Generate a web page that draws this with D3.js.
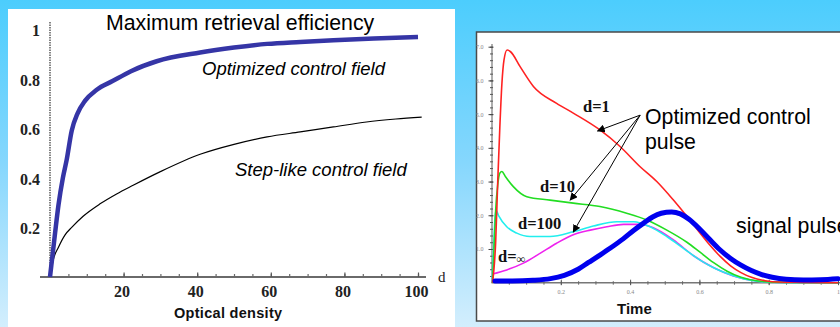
<!DOCTYPE html>
<html>
<head>
<meta charset="utf-8">
<script src="https://cdn.jsdelivr.net/npm/d3@7"></script>
<style>
  html, body { margin: 0; padding: 0; background: #ffffff; }
  svg { display: block; }
</style>
</head>
<body>
<script>
// ---- Left panel: maximum retrieval efficiency vs optical density ----
const optDensity    = [0, 0.7, 1.4, 2.3, 3.5, 4.5, 5.9, 7.5, 9.5, 12.7, 17, 22, 29, 40.8, 50, 59, 68, 77, 88, 100];
const optEfficiency = [0, 0.09, 0.18, 0.29, 0.40, 0.47, 0.59, 0.66, 0.71, 0.755, 0.79, 0.83, 0.87, 0.905, 0.925, 0.94, 0.948, 0.955, 0.962, 0.968];
const stepDensity    = [0, 0.9, 2.3, 4.1, 5.9, 9, 13.6, 18.1, 22.6, 30, 40.8, 50, 59, 68, 77, 86, 94, 101];
const stepEfficiency = [0, 0.07, 0.12, 0.17, 0.2, 0.245, 0.295, 0.335, 0.37, 0.425, 0.495, 0.535, 0.565, 0.585, 0.605, 0.625, 0.637, 0.645];
const densityTicks    = [20, 40, 60, 80, 100];
const efficiencyTicks = [0.2, 0.4, 0.6, 0.8, 1];

// ---- Right panel: control pulses and signal pulse vs time ----
const timeD1  = [0.003, 0.012, 0.018, 0.024, 0.03, 0.036, 0.045, 0.055, 0.083, 0.121, 0.188, 0.236, 0.313, 0.371, 0.429, 0.477, 0.525, 0.573, 0.6, 0.63, 0.66, 0.69, 0.72, 0.75, 0.79, 0.83, 0.9, 1.0];
const ctrlD1  = [0, 1.2, 3.0, 4.6, 5.9, 6.6, 6.9, 6.85, 6.4, 5.82, 5.32, 5.03, 4.53, 4.04, 3.44, 3.0, 2.45, 1.85, 1.5, 1.12, 0.78, 0.5, 0.3, 0.16, 0.06, 0.02, 0.01, 0];
const timeD10 = [0.003, 0.008, 0.012, 0.018, 0.024, 0.03, 0.04, 0.063, 0.102, 0.169, 0.236, 0.313, 0.39, 0.448, 0.506, 0.564, 0.6, 0.64, 0.68, 0.72, 0.77, 0.85, 1.0];
const ctrlD10 = [0, 1.2, 2.15, 2.9, 3.25, 3.3, 3.15, 2.85, 2.55, 2.45, 2.36, 2.26, 2.06, 1.86, 1.56, 1.2, 0.92, 0.6, 0.34, 0.16, 0.05, 0.01, 0];
const timeD100 = [0.002, 0.006, 0.01, 0.013, 0.02, 0.044, 0.073, 0.111, 0.169, 0.236, 0.294, 0.362, 0.41, 0.458, 0.506, 0.554, 0.602, 0.65, 0.698, 0.756, 0.82, 1.0];
const ctrlD100 = [0.1, 1.0, 1.9, 2.15, 2.0, 1.66, 1.47, 1.37, 1.37, 1.51, 1.68, 1.81, 1.81, 1.66, 1.37, 1.02, 0.67, 0.4, 0.21, 0.06, 0.01, 0];
const timeDInf = [0.003, 0.044, 0.092, 0.14, 0.188, 0.236, 0.285, 0.333, 0.381, 0.429, 0.467, 0.525, 0.583, 0.64, 0.698, 0.766, 0.83, 1.0];
const ctrlDInf = [0.26, 0.38, 0.58, 0.87, 1.17, 1.42, 1.56, 1.66, 1.73, 1.73, 1.63, 1.27, 0.8, 0.45, 0.2, 0.05, 0.01, 0.0];
const timeSignal = [0.01, 0.06, 0.12, 0.17, 0.21, 0.25, 0.28, 0.313, 0.342, 0.38, 0.41, 0.438, 0.465, 0.49, 0.52, 0.545, 0.57, 0.6, 0.63, 0.66, 0.69, 0.72, 0.75, 0.78, 0.81, 0.85, 0.9, 0.95, 1.0];
const signalPulse = [0.05, 0.05, 0.07, 0.12, 0.22, 0.4, 0.6, 0.82, 1.02, 1.3, 1.55, 1.76, 1.95, 2.06, 2.1, 2.04, 1.88, 1.6, 1.28, 0.97, 0.72, 0.52, 0.36, 0.24, 0.16, 0.1, 0.08, 0.09, 0.12];
const timeTicks  = [0.2, 0.4, 0.6, 0.8, 1];
const pulseTicks = [1, 2, 3, 4, 5, 6, 7];

const W = 840, H = 327;
const svg = d3.select("body").append("svg").attr("width", W).attr("height", H);

// slide background: vertical sky-blue gradient
const defs = svg.append("defs");
const grad = defs.append("linearGradient").attr("id", "bg").attr("x1", 0).attr("y1", 0).attr("x2", 0).attr("y2", 1);
grad.append("stop").attr("offset", "0%").attr("stop-color", "#4ccdfd");
grad.append("stop").attr("offset", "50%").attr("stop-color", "#86d7fd");
grad.append("stop").attr("offset", "100%").attr("stop-color", "#d3eefd");
svg.append("rect").attr("width", W).attr("height", H).attr("fill", "url(#bg)");

defs.append("marker").attr("id", "arrowHead")
  .attr("viewBox", "0 0 10 10").attr("refX", 9).attr("refY", 5)
  .attr("markerWidth", 8).attr("markerHeight", 8).attr("markerUnits", "userSpaceOnUse")
  .attr("orient", "auto")
  .append("path").attr("d", "M0,0 L10,5 L0,10 Z").attr("fill", "#000");

const serif = "'Liberation Serif', 'Times New Roman', serif";
const sans  = "'Liberation Sans', Arial, sans-serif";

// ================= Left panel =================
svg.append("rect").attr("x", 8).attr("y", 9).attr("width", 447).attr("height", 318).attr("fill", "#fff");

const xL = d3.scaleLinear().domain([0, 100]).range([50, 418]);
const yL = d3.scaleLinear().domain([0, 1]).range([277, 29]);

// horizontal axis line
svg.append("line").attr("x1", 40).attr("x2", 426).attr("y1", yL(0)).attr("y2", yL(0))
  .attr("stroke", "#6a6a6a").attr("stroke-width", 2);

// minor ticks
const gMinor = svg.append("g").attr("transform", `translate(0,${yL(0)})`)
  .call(d3.axisBottom(xL).tickValues(d3.range(5, 101, 5)).tickSize(-3).tickFormat(""));
gMinor.select(".domain").remove();
gMinor.selectAll("line").attr("stroke", "#6a6a6a").attr("stroke-width", 1.2);

// major ticks + labels
const gMajor = svg.append("g").attr("transform", `translate(0,${yL(0)})`)
  .call(d3.axisBottom(xL).tickValues(densityTicks).tickSize(-4.5).tickPadding(9));
gMajor.select(".domain").remove();
gMajor.selectAll("line").attr("stroke", "#555").attr("stroke-width", 1.2);
gMajor.selectAll("text").attr("font-family", serif).attr("font-weight", "bold")
  .attr("font-size", 16).attr("fill", "#222").attr("dx", -2);

// vertical dotted axis
svg.append("line").attr("x1", xL(0)).attr("x2", xL(0)).attr("y1", 22).attr("y2", yL(0))
  .attr("stroke", "#333").attr("stroke-width", 1.2).attr("stroke-dasharray", "1.5,1");

const gY = svg.append("g").attr("transform", `translate(${xL(0)},0)`)
  .call(d3.axisLeft(yL).tickValues(efficiencyTicks).tickSize(0).tickPadding(10)
    .tickFormat(d => d === 1 ? "1" : d3.format(".1f")(d)));
gY.select(".domain").remove();
gY.selectAll("text").attr("font-family", serif).attr("font-weight", "bold")
  .attr("font-size", 16).attr("fill", "#222").attr("dy", "0.4em");

const lineL = d3.line().x(d => xL(d[0])).y(d => yL(d[1])).curve(d3.curveMonotoneX);

svg.append("path").datum(d3.zip(stepDensity, stepEfficiency))
  .attr("d", lineL).attr("fill", "none").attr("stroke", "#000").attr("stroke-width", 1.2);
svg.append("path").datum(d3.zip(optDensity, optEfficiency))
  .attr("d", lineL).attr("fill", "none").attr("stroke", "#3535a6").attr("stroke-width", 4.5)
  .attr("stroke-linejoin", "round");

svg.append("text").attr("x", 106).attr("y", 30).attr("font-family", sans).attr("font-size", 21.3)
  .attr("fill", "#000").text("Maximum retrieval efficiency");
svg.append("text").attr("x", 202).attr("y", 75).attr("font-family", sans).attr("font-style", "italic")
  .attr("font-size", 18.5).attr("fill", "#000").text("Optimized control field");
svg.append("text").attr("x", 235).attr("y", 176).attr("font-family", sans).attr("font-style", "italic")
  .attr("font-size", 18.5).attr("fill", "#000").text("Step-like control field");
svg.append("text").attr("x", 174).attr("y", 318).attr("font-family", sans).attr("font-weight", "bold")
  .attr("font-size", 14.5).attr("fill", "#111").attr("letter-spacing", 0.3).text("Optical density");
svg.append("text").attr("x", 438).attr("y", 282).attr("font-family", serif)
  .attr("font-size", 15).attr("fill", "#222").text("d");

// ================= Right panel =================
svg.append("rect").attr("x", 476.5).attr("y", 32).attr("width", 400).attr("height", 289)
  .attr("fill", "#fff").attr("stroke", "#4a4a4a").attr("stroke-width", 1.5);

const xR = d3.scaleLinear().domain([0, 1]).range([491.5, 838]);
const yR = d3.scaleLinear().domain([0, 7]).range([282.7, 46.7]);

// time axis
svg.append("line").attr("x1", xR(0)).attr("x2", 842).attr("y1", yR(0)).attr("y2", yR(0))
  .attr("stroke", "#777").attr("stroke-width", 1.5);
const gTm = svg.append("g").attr("transform", `translate(0,${yR(0)})`)
  .call(d3.axisBottom(xR).tickValues(d3.range(0.05, 1.001, 0.05)).tickSize(2).tickFormat(""));
gTm.select(".domain").remove();
gTm.selectAll("line").attr("stroke", "#666").attr("y1", -1.5);
const gT = svg.append("g").attr("transform", `translate(0,${yR(0)})`)
  .call(d3.axisBottom(xR).tickValues(timeTicks).tickSize(2.5).tickPadding(5).tickFormat(d => d === 1 ? "1" : d3.format(".1f")(d)));
gT.select(".domain").remove();
gT.selectAll("line").attr("stroke", "#555").attr("y1", -3);
gT.selectAll("text").attr("font-family", serif).attr("font-size", 6).attr("fill", "#888");

// pulse amplitude axis
svg.append("line").attr("x1", xR(0) + 0.5).attr("x2", xR(0) + 0.5).attr("y1", 44).attr("y2", yR(0))
  .attr("stroke", "#777").attr("stroke-width", 1.2);
const gVm = svg.append("g").attr("transform", `translate(${xR(0) + 0.5},0)`)
  .call(d3.axisLeft(yR).tickValues(d3.range(0.2, 7.01, 0.2)).tickSize(2).tickFormat(""));
gVm.select(".domain").remove();
gVm.selectAll("line").attr("stroke", "#555").attr("x2", -2).attr("x1", 1);
const gV = svg.append("g").attr("transform", `translate(${xR(0) + 0.5},0)`)
  .call(d3.axisLeft(yR).tickValues(pulseTicks).tickSize(3.5).tickPadding(5));
gV.select(".domain").remove();
gV.selectAll("line").attr("stroke", "#444").attr("x1", 1.5);
gV.selectAll("text").attr("font-family", serif).attr("font-size", 6).attr("fill", "#888");

const lineR = d3.line().x(d => xR(d[0])).y(d => yR(d[1])).curve(d3.curveMonotoneX);
const pulses = [
  { t: timeDInf, v: ctrlDInf, color: "#ee22ee" },
  { t: timeD100, v: ctrlD100, color: "#22eeee" },
  { t: timeD10,  v: ctrlD10,  color: "#22dd22" },
  { t: timeD1,   v: ctrlD1,   color: "#ff2222" }
];
svg.selectAll("path.ctrl").data(pulses).join("path").attr("class", "ctrl")
  .attr("d", p => lineR(d3.zip(p.t, p.v)))
  .attr("fill", "none").attr("stroke", p => p.color).attr("stroke-width", 1.6);

svg.append("path").datum(d3.zip(timeSignal, signalPulse))
  .attr("d", lineR).attr("fill", "none").attr("stroke", "#0000ee").attr("stroke-width", 5)
  .attr("stroke-linecap", "round").attr("stroke-linejoin", "round");

// curve labels
const lab = (x, y, s) => svg.append("text").attr("x", x).attr("y", y).attr("font-family", serif)
  .attr("font-weight", "bold").attr("font-size", 16.5).attr("fill", "#111").text(s);
lab(583, 112, "d=1");
lab(540, 191.5, "d=10");
lab(518, 229, "d=100");
const inf = lab(498, 262, "d=");
inf.append("tspan").attr("font-size", 12).attr("dy", 1).text("∞");

// arrows from the annotation to three control pulses
const arrowFrom = [0.429, 4.97];
const arrowTips = [[0.306, 4.5], [0.227, 2.45], [0.236, 1.5]];
svg.selectAll("line.arrow").data(arrowTips).join("line").attr("class", "arrow")
  .attr("x1", xR(arrowFrom[0])).attr("y1", yR(arrowFrom[1]))
  .attr("x2", d => xR(d[0])).attr("y2", d => yR(d[1]))
  .attr("stroke", "#000").attr("stroke-width", 1).attr("marker-end", "url(#arrowHead)");

svg.append("text").attr("x", 645).attr("y", 124).attr("font-family", sans).attr("font-size", 21.3)
  .attr("fill", "#000").text("Optimized control");
svg.append("text").attr("x", 645).attr("y", 149).attr("font-family", sans).attr("font-size", 21.3)
  .attr("fill", "#000").text("pulse");
svg.append("text").attr("x", 736).attr("y", 233).attr("font-family", sans).attr("font-size", 21.3)
  .attr("fill", "#000").text("signal pulse");
svg.append("text").attr("x", 617).attr("y", 314).attr("font-family", sans).attr("font-weight", "bold")
  .attr("font-size", 15).attr("fill", "#111").text("Time");
</script>
</body>
</html>
